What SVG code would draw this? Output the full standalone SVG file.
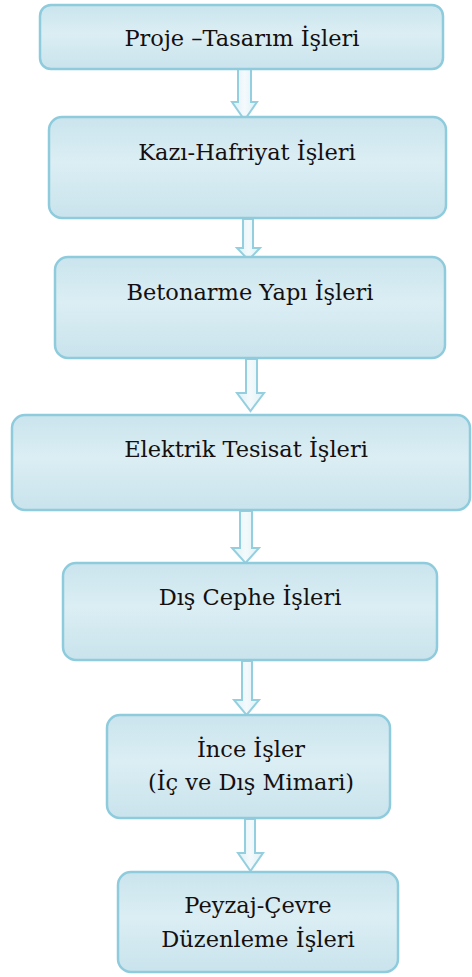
<svg xmlns="http://www.w3.org/2000/svg" width="472" height="977" viewBox="0 0 472 977">
<defs>
<linearGradient id="g" x1="0" y1="0" x2="0" y2="1">
<stop offset="0" stop-color="#cae4ed"/>
<stop offset="0.45" stop-color="#dbeef4"/>
<stop offset="1" stop-color="#c9e3ec"/>
</linearGradient>
<linearGradient id="ga" x1="0" y1="0" x2="1" y2="0">
<stop offset="0" stop-color="#dcf0f6"/>
<stop offset="0.5" stop-color="#f4fafc"/>
<stop offset="1" stop-color="#dcf0f6"/>
</linearGradient>
</defs>
<style>
.box{fill:url(#g);stroke:#8ecbdc;stroke-width:2.5}
.t{font-family:"DejaVu Serif",serif;font-size:22.5px;fill:#150f0f;text-anchor:middle}
.arr{fill:url(#ga);stroke:#94cfdf;stroke-width:2;stroke-linejoin:miter}
</style>
<rect width="472" height="977" fill="#ffffff"/>
<g id="connectors">
<polygon class="arr" points="238,67 251,67 251,102 257,102 244.5,120 232,102 238,102"/>
<polygon class="arr" points="243,219 253,219 253,248 260,248 248.5,260 237,248 243,248"/>
<polygon class="arr" points="246,359 257,359 257,393 264,393 250.5,411 237,393 246,393"/>
<polygon class="arr" points="240,511 252,511 252,548 259,548 245.5,563 232,548 240,548"/>
<polygon class="arr" points="242,661 252,661 252,700 259,700 246.5,715 234,700 242,700"/>
<polygon class="arr" points="245,819 255,819 255,853 263,853 250.5,871 238,853 245,853"/>
</g>
<g id="n1">
<rect class="box" x="40" y="5" width="403" height="64" rx="11"/>
<text class="t" x="242" y="46">Proje –Tasarım İşleri</text>
</g>
<g id="n2">
<rect class="box" x="49" y="117" width="397" height="101" rx="13"/>
<text class="t" x="247" y="160">Kazı-Hafriyat İşleri</text>
</g>
<g id="n3">
<rect class="box" x="55" y="257" width="390" height="101" rx="13"/>
<text class="t" x="250" y="300">Betonarme Yapı İşleri</text>
</g>
<g id="n4">
<rect class="box" x="12" y="415" width="458" height="95" rx="13"/>
<text class="t" x="246" y="457">Elektrik Tesisat İşleri</text>
</g>
<g id="n5">
<rect class="box" x="63" y="563" width="374" height="97" rx="13"/>
<text class="t" x="250" y="605">Dış Cephe İşleri</text>
</g>
<g id="n6">
<rect class="box" x="107" y="715" width="283" height="103" rx="13"/>
<text class="t" x="251" y="757">İnce İşler</text>
<text class="t" x="251" y="790">(İç ve Dış Mimari)</text>
</g>
<g id="n7">
<rect class="box" x="118" y="872" width="280" height="100" rx="13"/>
<text class="t" x="258" y="913">Peyzaj-Çevre</text>
<text class="t" x="258" y="947">Düzenleme İşleri</text>
</g>
</svg>
